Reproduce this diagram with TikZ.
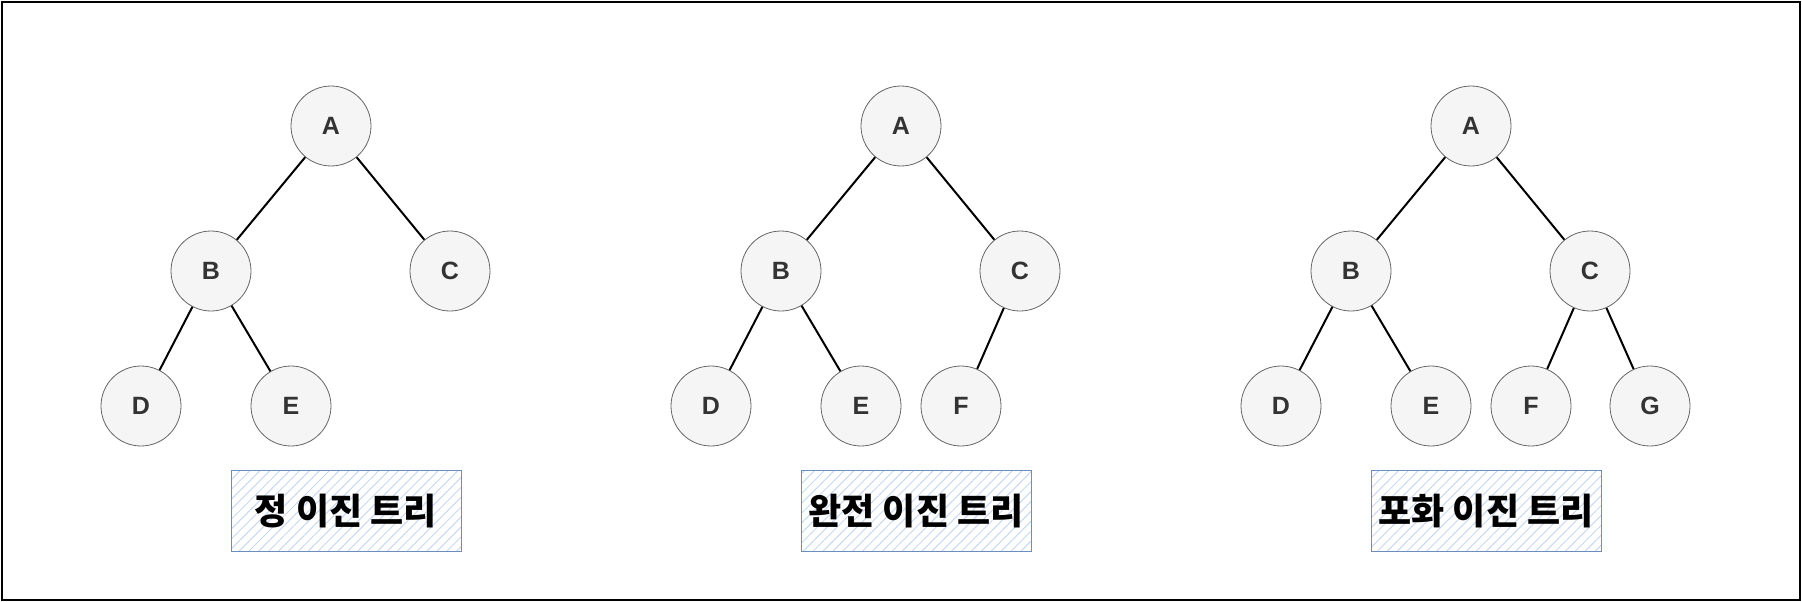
\documentclass[tikz,border=0pt]{standalone}
\usepackage{fontspec}
\setmainfont{Liberation Sans}
\newfontfamily\kor{Noto Sans CJK KR}
\usetikzlibrary{patterns.meta}
\definecolor{nodefill}{HTML}{F5F5F5}
\definecolor{nodeline}{HTML}{666666}
\definecolor{nodetext}{HTML}{333333}
\definecolor{boxline}{HTML}{6C8EBF}
\definecolor{hatch}{HTML}{C8D8F0}
\tikzset{
  tnode/.style={circle, draw=nodeline, line width=0.8pt, fill=nodefill,
    minimum size=80pt, inner sep=0pt, text=nodetext,
    font=\fontsize{25}{30}\selectfont\bfseries},
  tedge/.style={line width=2pt, black},
  namebox/.style={draw=boxline, line width=1pt, minimum width=230pt, minimum height=81pt,
    inner sep=0pt, pattern={Lines[angle=45,distance=7pt,line width=1pt]}, pattern color=hatch,
    font=\kor\fontsize{36}{42}\selectfont\bfseries}
}
\begin{document}
\begin{tikzpicture}[x=1pt,y=-1pt]
    \useasboundingbox (0,0) rectangle (1802,602);
    \draw[line width=2pt] (2,2) rectangle (1800,600);
    % full binary tree
    \node[tnode] (a1) at (331,126) {A};
    \node[tnode] (b1) at (211,271) {B};
    \node[tnode] (c1) at (450,271) {C};
    \node[tnode] (d1) at (141,406) {D};
    \node[tnode] (e1) at (291,406) {E};
    \draw[tedge] (a1) -- (b1);
    \draw[tedge] (a1) -- (c1);
    \draw[tedge] (b1) -- (d1);
    \draw[tedge] (b1) -- (e1);
    \node[namebox] (t1) at (346,511) {정 이진 트리};
    % complete binary tree
    \node[tnode] (a2) at (901,126) {A};
    \node[tnode] (b2) at (781,271) {B};
    \node[tnode] (c2) at (1020,271) {C};
    \node[tnode] (d2) at (711,406) {D};
    \node[tnode] (e2) at (861,406) {E};
    \node[tnode] (f2) at (961,406) {F};
    \draw[tedge] (a2) -- (b2);
    \draw[tedge] (a2) -- (c2);
    \draw[tedge] (b2) -- (d2);
    \draw[tedge] (b2) -- (e2);
    \draw[tedge] (c2) -- (f2);
    \node[namebox] (t2) at (916,511) {완전 이진 트리};
    % perfect binary tree
    \node[tnode] (a3) at (1471,126) {A};
    \node[tnode] (b3) at (1351,271) {B};
    \node[tnode] (c3) at (1590,271) {C};
    \node[tnode] (d3) at (1281,406) {D};
    \node[tnode] (e3) at (1431,406) {E};
    \node[tnode] (f3) at (1531,406) {F};
    \node[tnode] (g3) at (1650,406) {G};
    \draw[tedge] (a3) -- (b3);
    \draw[tedge] (a3) -- (c3);
    \draw[tedge] (b3) -- (d3);
    \draw[tedge] (b3) -- (e3);
    \draw[tedge] (c3) -- (f3);
    \draw[tedge] (c3) -- (g3);
    \node[namebox] (t3) at (1486,511) {포화 이진 트리};
\end{tikzpicture}
\end{document}
